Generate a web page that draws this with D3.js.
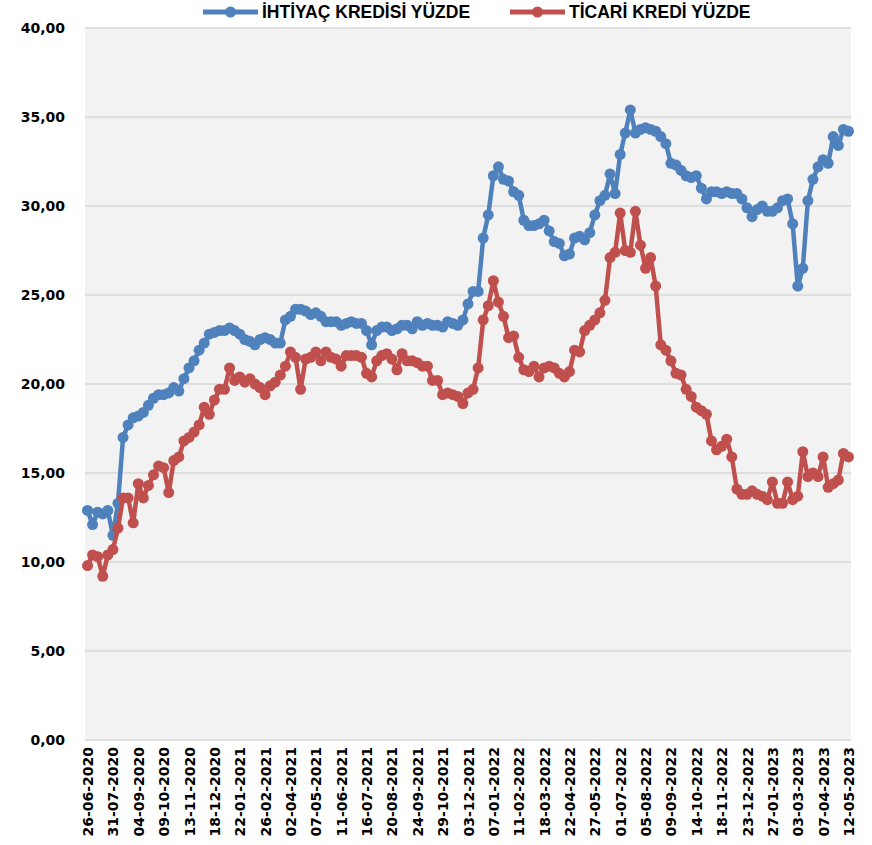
<!DOCTYPE html>
<html>
<head>
<meta charset="utf-8">
<script src="https://cdn.jsdelivr.net/npm/d3@7"></script>
<style>
  body { margin: 0; background: #fff; }
</style>
</head>
<body>
<svg class="viz" width="872" height="845"></svg>
<script>
// Data (weekly, 26-06-2020 .. 12-05-2023)
var startDate = "26-06-2020";
var weekCount = 151;

var tickLabels = ["26-06-2020", "31-07-2020", "04-09-2020", "09-10-2020", "13-11-2020", "18-12-2020",
  "22-01-2021", "26-02-2021", "02-04-2021", "07-05-2021", "11-06-2021", "16-07-2021", "20-08-2021",
  "24-09-2021", "29-10-2021", "03-12-2021", "07-01-2022", "11-02-2022", "18-03-2022", "22-04-2022",
  "27-05-2022", "01-07-2022", "05-08-2022", "09-09-2022", "14-10-2022", "18-11-2022", "23-12-2022",
  "27-01-2023", "03-03-2023", "07-04-2023", "12-05-2023"];

var ihtiyac = [12.9, 12.1, 12.8, 12.7, 12.9, 11.5, 13.3, 17.0, 17.7, 18.1,
  18.2, 18.4, 18.8, 19.2, 19.4, 19.4, 19.5, 19.8, 19.6, 20.3,
  20.9, 21.3, 21.9, 22.3, 22.8, 22.9, 23.0, 23.0, 23.15, 23.0,
  22.8, 22.5, 22.4, 22.2, 22.5, 22.6, 22.5, 22.3, 22.3, 23.6,
  23.8, 24.2, 24.2, 24.1, 23.9, 24.0, 23.8, 23.5, 23.5, 23.5,
  23.3, 23.4, 23.5, 23.4, 23.4, 23.0, 22.2, 23.0, 23.2, 23.2,
  23.0, 23.1, 23.3, 23.3, 23.1, 23.5, 23.3, 23.4, 23.3, 23.3,
  23.2, 23.5, 23.4, 23.3, 23.6, 24.5, 25.2, 25.2, 28.2, 29.5,
  31.7, 32.2, 31.5, 31.4, 30.8, 30.6, 29.2, 28.9, 28.9, 29.0,
  29.2, 28.6, 28.0, 27.9, 27.2, 27.3, 28.2, 28.3, 28.1, 28.5,
  29.5, 30.3, 30.6, 31.8, 30.7, 32.9, 34.1, 35.4, 34.1, 34.3,
  34.4, 34.3, 34.2, 33.9, 33.5, 32.4, 32.3, 32.0, 31.7, 31.6,
  31.7, 31.0, 30.4, 30.8, 30.8, 30.7, 30.8, 30.7, 30.7, 30.4,
  29.9, 29.4, 29.8, 30.0, 29.7, 29.7, 29.9, 30.3, 30.4, 29.0,
  25.5, 26.5, 30.3, 31.5, 32.2, 32.6, 32.4, 33.9, 33.4, 34.3,
  34.2];

var ticari = [9.8, 10.4, 10.3, 9.2, 10.4, 10.7, 11.9, 13.6, 13.6, 12.2,
  14.4, 13.6, 14.3, 14.9, 15.4, 15.3, 13.9, 15.7, 15.9, 16.8,
  17.0, 17.3, 17.7, 18.7, 18.3, 19.1, 19.7, 19.7, 20.9, 20.2,
  20.4, 20.1, 20.3, 20.0, 19.8, 19.4, 19.9, 20.1, 20.5, 21.0,
  21.8, 21.5, 19.7, 21.4, 21.5, 21.8, 21.3, 21.8, 21.5, 21.4,
  21.0, 21.6, 21.6, 21.6, 21.5, 20.6, 20.4, 21.3, 21.6, 21.7,
  21.4, 20.8, 21.7, 21.3, 21.3, 21.2, 21.0, 21.0, 20.2, 20.2,
  19.4, 19.5, 19.4, 19.3, 18.9, 19.5, 19.7, 20.9, 23.6, 24.4,
  25.8, 24.6, 23.8, 22.6, 22.7, 21.5, 20.8, 20.7, 21.0, 20.4,
  20.9, 21.0, 20.9, 20.6, 20.4, 20.7, 21.9, 21.8, 23.0, 23.3,
  23.6, 24.0, 24.7, 27.1, 27.4, 29.6, 27.5, 27.4, 29.7, 27.8,
  26.5, 27.1, 25.5, 22.2, 21.9, 21.3, 20.6, 20.5, 19.7, 19.3,
  18.7, 18.5, 18.3, 16.8, 16.3, 16.5, 16.9, 15.9, 14.1, 13.8,
  13.8, 14.0, 13.8, 13.7, 13.5, 14.5, 13.3, 13.3, 14.5, 13.5,
  13.7, 16.2, 14.8, 15.0, 14.8, 15.9, 14.2, 14.4, 14.6, 16.1,
  15.9];

var seriesNames = ["İHTİYAÇ KREDİSİ YÜZDE", "TİCARİ KREDİ YÜZDE"];
var seriesColors = ["#4f81bd", "#c0504d"];
var yTicks = [0, 5, 10, 15, 20, 25, 30, 35, 40];

var svg = d3.select(".viz"),
    plot = {left: 85, right: 851, top: 28, bottom: 740};

var parseDate = d3.timeParse("%d-%m-%Y"),
    formatDate = d3.timeFormat("%d-%m-%Y");

// weekly categories
var categories = [];
var d0 = parseDate(startDate);
for (var i = 0; i < weekCount; i++) {
  categories.push(formatDate(d3.timeDay.offset(d0, i * 7)));
}

var trLocale = d3.formatLocale({decimal: ",", thousands: ".", grouping: [3], currency: ["", ""]});
var fmt = trLocale.format(".2f");

var x = d3.scalePoint()
    .domain(categories)
    .range([plot.left, plot.right])
    .padding(0.5);

var y = d3.scaleLinear()
    .domain([0, 40])
    .range([plot.bottom, plot.top]);

// plot background
svg.append("rect")
    .attr("x", plot.left)
    .attr("y", plot.top)
    .attr("width", plot.right - plot.left)
    .attr("height", plot.bottom - plot.top)
    .attr("fill", "#f2f2f2");

// gridlines
svg.append("g")
    .selectAll("line")
    .data(yTicks)
    .enter().append("line")
    .attr("x1", plot.left)
    .attr("x2", plot.right)
    .attr("y1", function(d) { return y(d); })
    .attr("y2", function(d) { return y(d); })
    .style("stroke", "#d9d9d9")
    .style("stroke-width", "1.5px");

// y axis
var yAxis = svg.append("g")
    .attr("transform", "translate(" + (plot.left - 20) + ",0)")
    .call(d3.axisLeft(y).tickValues(yTicks).tickFormat(fmt).tickSize(0).tickPadding(0));
yAxis.select(".domain").remove();
yAxis.selectAll("text")
    .attr("font-family", "'DejaVu Sans', Verdana, sans-serif")
    .attr("font-weight", "bold")
    .attr("font-size", "14px")
    .attr("fill", "#000");

// x axis
var xAxis = svg.append("g")
    .attr("transform", "translate(0," + plot.bottom + ")")
    .call(d3.axisBottom(x).tickValues(tickLabels).tickSize(0));
xAxis.select(".domain").remove();
xAxis.selectAll("text")
    .attr("transform", "rotate(-90)")
    .attr("x", -7)
    .attr("y", 0)
    .attr("dy", "0.36em")
    .style("text-anchor", "end")
    .attr("font-family", "'DejaVu Sans', Verdana, sans-serif")
    .attr("font-weight", "bold")
    .attr("font-size", "14px")
    .attr("fill", "#000");

// series
var series = [ihtiyac, ticari];

var line = d3.line()
    .x(function(d, i) { return x(categories[i]); })
    .y(function(d) { return y(d); });

series.forEach(function(values, s) {
  var g = svg.append("g");
  g.append("path")
      .datum(values)
      .attr("d", line)
      .attr("fill", "none")
      .style("stroke", seriesColors[s])
      .style("stroke-width", "4.5px")
      .style("stroke-linejoin", "round");
  g.selectAll("circle")
      .data(values)
      .enter().append("circle")
      .attr("cx", function(d, i) { return x(categories[i]); })
      .attr("cy", function(d) { return y(d); })
      .attr("r", 5.5)
      .attr("fill", seriesColors[s]);
});

// legend
var legendX = [203, 510];
var legend = svg.append("g");
seriesNames.forEach(function(name, s) {
  var lg = legend.append("g").attr("transform", "translate(" + legendX[s] + ",12)");
  lg.append("line")
      .attr("x1", 0).attr("x2", 55)
      .style("stroke", seriesColors[s])
      .style("stroke-width", "5px");
  lg.append("circle")
      .attr("cx", 27.5).attr("r", 5.5)
      .attr("fill", seriesColors[s]);
  lg.append("text")
      .attr("x", 59)
      .attr("dy", "0.36em")
      .attr("font-family", "'Liberation Sans Narrow', 'Liberation Sans', sans-serif")
      .attr("font-weight", "bold")
      .attr("font-size", "17.5px")
      .attr("fill", "#000")
      .text(name);
});
</script>
</body>
</html>
